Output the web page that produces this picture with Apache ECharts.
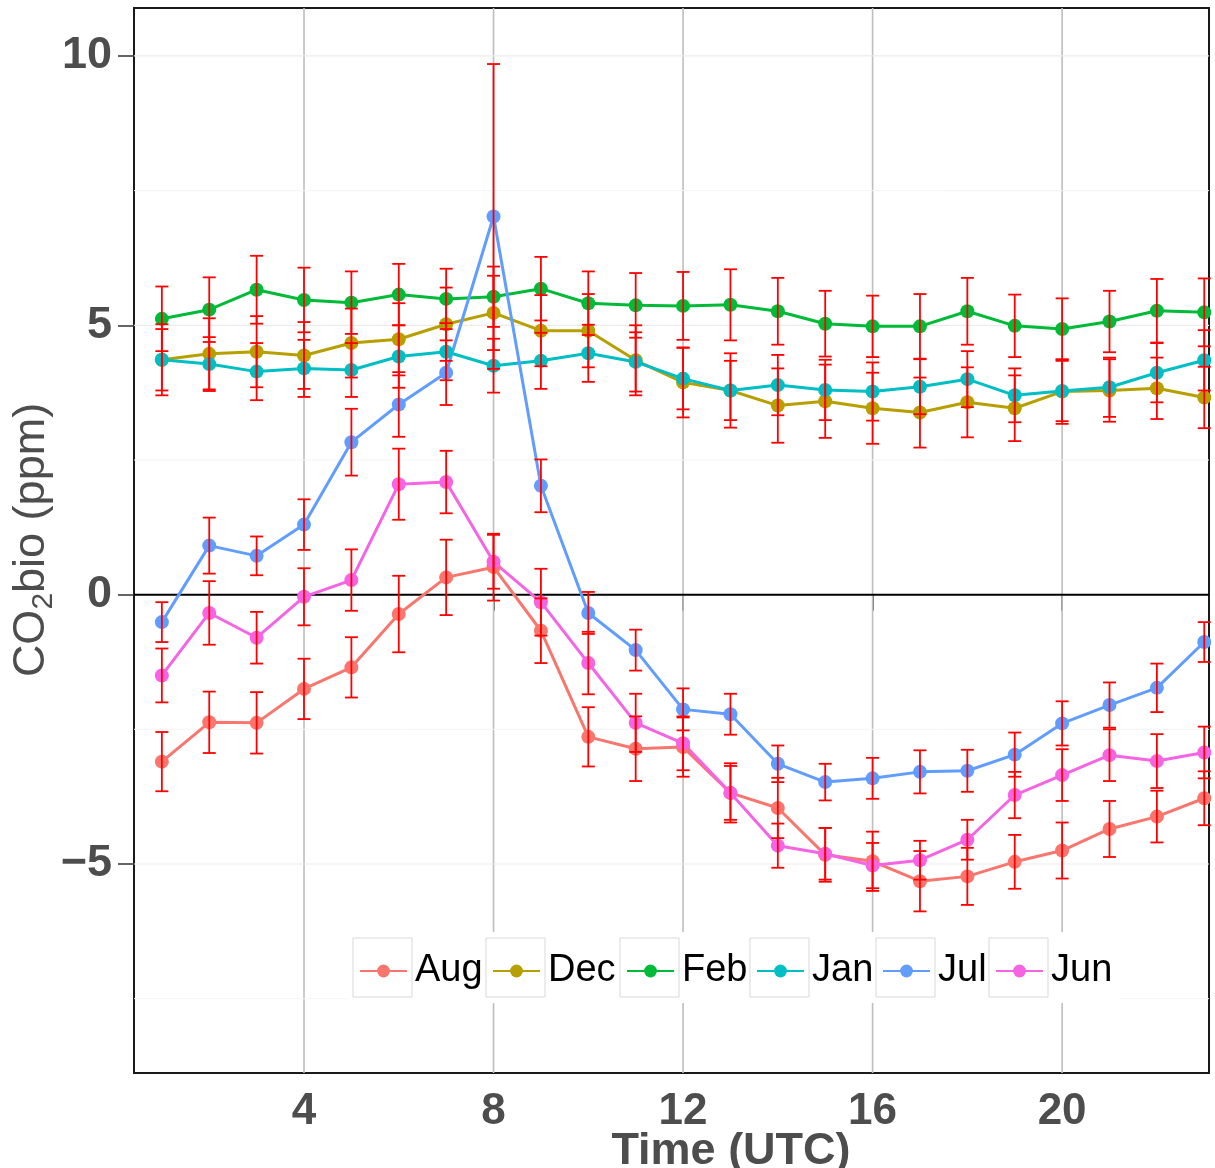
<!DOCTYPE html>
<html>
<head>
<meta charset="utf-8">
<script src="https://cdn.jsdelivr.net/npm/echarts@6/dist/echarts.min.js"></script>
<style>html,body{margin:0;padding:0;background:#fff}#c{width:1215px;height:1168px}</style>
</head>
<body>
<div id="c"></div>
<script>
// ---- data ----
const hours = [1,2,3,4,5,6,7,8,9,10,11,12,13,14,15,16,17,18,19,20,21,22,23];
const months = ['Aug','Dec','Feb','Jan','Jul','Jun'];
const colors = ['#F8766D','#B79F00','#00BA38','#00BFC4','#619CFF','#F564E3'];

const augVal = [-3.10,-2.37,-2.38,-1.75,-1.35,-0.36,0.32,0.51,-0.67,-2.64,-2.86,-2.83,-3.68,-3.96,-4.83,-4.95,-5.32,-5.23,-4.96,-4.75,-4.35,-4.12,-3.78];
const augErr = [0.55,0.57,0.57,0.56,0.56,0.71,0.70,0.62,0.60,0.55,0.60,0.55,0.55,0.56,0.50,0.55,0.56,0.53,0.50,0.52,0.52,0.48,0.50];
const decVal = [4.36,4.47,4.51,4.44,4.67,4.74,5.02,5.23,4.90,4.90,4.35,3.94,3.79,3.51,3.59,3.46,3.38,3.57,3.46,3.77,3.79,3.83,3.66];
const decErr = [0.66,0.66,0.66,0.62,0.64,0.67,0.68,0.69,0.66,0.68,0.65,0.65,0.69,0.69,0.68,0.66,0.65,0.65,0.61,0.60,0.58,0.57,0.57];
const febVal = [5.12,5.29,5.66,5.47,5.42,5.57,5.49,5.53,5.68,5.41,5.37,5.36,5.38,5.26,5.03,4.98,4.98,5.26,4.99,4.93,5.07,5.27,5.24];
const febErr = [0.60,0.60,0.63,0.60,0.58,0.57,0.56,0.56,0.59,0.59,0.60,0.63,0.66,0.62,0.61,0.57,0.60,0.62,0.58,0.57,0.57,0.59,0.63];
const janVal = [4.36,4.28,4.14,4.20,4.17,4.42,4.51,4.25,4.34,4.48,4.32,4.01,3.79,3.89,3.80,3.77,3.86,4.00,3.70,3.78,3.85,4.12,4.35];
const janErr = [0.57,0.50,0.53,0.53,0.50,0.58,0.53,0.50,0.52,0.53,0.55,0.57,0.55,0.56,0.56,0.54,0.51,0.52,0.50,0.56,0.55,0.55,0.56];
const julVal = [-0.51,0.91,0.72,1.30,2.83,3.53,4.12,7.02,2.02,-0.34,-1.03,-2.13,-2.22,-3.14,-3.48,-3.41,-3.29,-3.27,-2.97,-2.39,-2.05,-1.73,-0.88];
const julErr = [0.37,0.52,0.36,0.47,0.62,0.60,0.60,2.83,0.49,0.39,0.38,0.39,0.38,0.34,0.34,0.38,0.40,0.39,0.41,0.41,0.42,0.45,0.37];
const junVal = [-1.50,-0.34,-0.80,-0.04,0.27,2.05,2.09,0.61,-0.14,-1.27,-2.38,-2.76,-3.68,-4.66,-4.81,-5.03,-4.93,-4.55,-3.72,-3.35,-2.98,-3.09,-2.93];
const junErr = [0.50,0.59,0.48,0.53,0.57,0.66,0.58,0.50,0.62,0.58,0.54,0.50,0.50,0.41,0.48,0.42,0.36,0.37,0.43,0.48,0.48,0.50,0.48];

const xTicks = [4,8,12,16,20];
const yTicks = [-5,0,5,10];
const yMinorGrid = [-7.5,-2.5,2.5,7.5];
const zeroLine = [0];

// ---- build ----
const vals = [augVal, decVal, febVal, janVal, julVal, junVal];
const errs = [augErr, decErr, febErr, janErr, julErr, junErr];
const FONT = '"Liberation Sans", Arial, sans-serif';

const lineSeries = months.map((m, i) => ({
  name: m, type: 'line', z: 3,
  data: hours.map((h, j) => [h, vals[i][j]]),
  symbol: 'circle', symbolSize: 14,
  lineStyle: {width: 3, color: colors[i]},
  itemStyle: {color: colors[i]},
  emphasis: {disabled: true},
  animation: false
}));

const errData = [];
months.forEach((m, i) => hours.forEach((h, j) => {
  errData.push([h, vals[i][j] - errs[i][j], vals[i][j] + errs[i][j]]);
}));

function renderErr(params, api) {
  const x = api.value(0), lo = api.value(1), hi = api.value(2);
  const a = api.coord([x, hi]), b = api.coord([x, lo]);
  const cap = 6.5;
  const st = {stroke: '#FF0000', lineWidth: 1.8, fill: null};
  return {type: 'group', children: [
    {type: 'line', shape: {x1: a[0], y1: a[1], x2: b[0], y2: b[1]}, style: st},
    {type: 'line', shape: {x1: a[0]-cap, y1: a[1], x2: a[0]+cap, y2: a[1]}, style: st},
    {type: 'line', shape: {x1: b[0]-cap, y1: b[1], x2: b[0]+cap, y2: b[1]}, style: st}
  ]};
}
function vGrid(params, api) {
  const cs = params.coordSys;
  const p = api.coord([api.value(0), 0]);
  return {type: 'line', shape: {x1: p[0], y1: cs.y, x2: p[0], y2: cs.y + cs.height},
    style: {stroke: '#bebebe', lineWidth: 1.6}};
}
function hGridMaker(color, width) {
  return function (params, api) {
    const cs = params.coordSys;
    const p = api.coord([1, api.value(1)]);
    return {type: 'line', shape: {x1: cs.x, y1: p[1], x2: cs.x + cs.width, y2: p[1]},
      style: {stroke: color, lineWidth: width}};
  };
}

const boxLeft = [353, 486, 620, 750, 876, 989];

const chart = echarts.init(document.getElementById('c'), null, {renderer: 'canvas'});
chart.setOption({
  animation: false,
  backgroundColor: '#fff',
  grid: {left: 134, right: 6, top: 8, bottom: 95, show: true, borderColor: '#1a1a1a', borderWidth: 2, backgroundColor: '#fff'},
  xAxis: {
    type: 'value', min: 0.412, max: 23.1,
    axisLine: {show: false},
    splitLine: {show: false},
    axisTick: {show: true, length: 16, customValues: xTicks, lineStyle: {color: '#333', width: 1.5}},
    axisLabel: {customValues: xTicks, margin: 17, fontSize: 44, fontWeight: 'bold', color: '#4d4d4d', fontFamily: FONT}
  },
  yAxis: {
    type: 'value', min: -8.88, max: 10.89,
    axisLine: {show: false},
    splitLine: {show: false},
    axisTick: {show: true, length: 16, customValues: yTicks, lineStyle: {color: '#333', width: 1.5}},
    axisLabel: {customValues: yTicks, margin: 22, fontSize: 45, fontWeight: 'bold', color: '#4d4d4d', fontFamily: FONT,
      formatter: v => v < 0 ? '\u2212' + Math.abs(v) : String(v)}
  },
  legend: months.map((m, i) => ({
    data: [m], left: boxLeft[i] + 6, top: 952, padding: 0, itemGap: 0,
    itemWidth: 47, itemHeight: 16, itemStyle: {borderWidth: 0}, z: 10,
    textStyle: {fontSize: 38, color: '#000', fontFamily: FONT, padding: [0,0,0,3]},
    selectedMode: false
  })),
  graphic: [
    {type: 'rect', z: 5, shape: {x: 347, y: 932, width: 772, height: 71}, style: {fill: '#fff'}},
    ...boxLeft.map(x => ({type: 'rect', z: 6, shape: {x: x, y: 938, width: 59, height: 59}, style: {fill: '#fff', stroke: '#d9d9d9', lineWidth: 1}})),
    {type: 'text', z: 6, x: 32, y: 540, rotation: Math.PI / 2,
      style: {text: '{a|CO}{s|2}{a|bio (ppm)}', align: 'center', verticalAlign: 'middle',
        rich: {a: {fontSize: 45, fill: '#4d4d4d', fontFamily: FONT},
               s: {fontSize: 30, fill: '#4d4d4d', fontFamily: FONT, padding: [24, 0, 0, 0]}}}},
    {type: 'text', z: 6, x: 731, y: 1152,
      style: {text: 'Time (UTC)', align: 'center', verticalAlign: 'middle', fontSize: 45, fontWeight: 'bold', fill: '#4d4d4d', fontFamily: FONT}}
  ],
  series: [
    {name: 'vgrid', type: 'custom', z: 1, silent: true, renderItem: vGrid, encode: {x: 0, y: 1}, data: xTicks.map(v => [v, 0])},
    {name: 'hminor', type: 'custom', z: 1, silent: true, renderItem: hGridMaker('#f4f4f4', 1), encode: {x: 0, y: 1}, data: yMinorGrid.map(v => [1, v])},
    {name: 'hmajor', type: 'custom', z: 1, silent: true, renderItem: hGridMaker('#ebebeb', 1.2), encode: {x: 0, y: 1}, data: yTicks.filter(v => v !== 0).map(v => [1, v])},
    {name: 'zero', type: 'custom', z: 1, silent: true, renderItem: hGridMaker('#000', 2), encode: {x: 0, y: 1}, data: zeroLine.map(v => [1, v])},
    ...lineSeries,
    {name: 'err', type: 'custom', z: 4, silent: true, renderItem: renderErr, encode: {x: 0, y: [1, 2]}, data: errData}
  ]
});
</script>
</body>
</html>
